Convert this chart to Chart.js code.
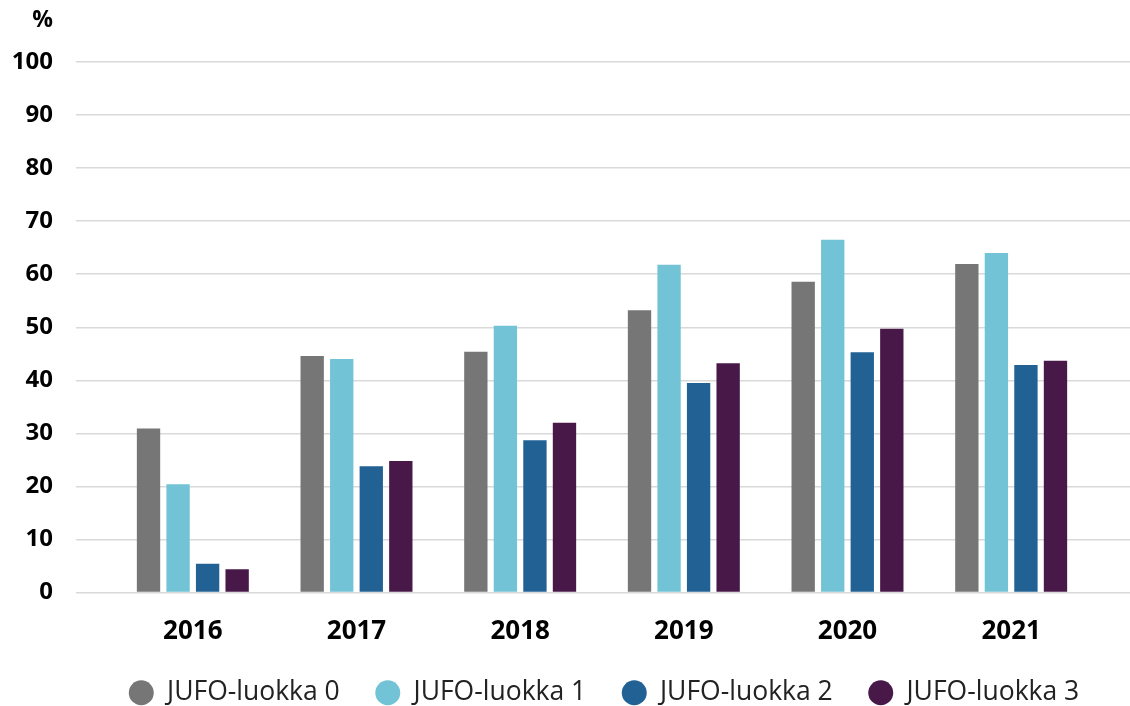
<!DOCTYPE html>
<html>
<head>
<meta charset="utf-8">
<script src="https://cdn.jsdelivr.net/npm/chart.js@4.4.0/dist/chart.umd.min.js"></script>
<style>
    html, body { margin: 0; padding: 0; background: #ffffff; }
    #wrap { width: 1130px; height: 706px; position: relative; }
</style>
</head>
<body>
<div id="wrap"><canvas id="chart"></canvas></div>
<script>
// Data
const years = ['2016', '2017', '2018', '2019', '2020', '2021'];
const luokka0 = [30.9, 44.6, 45.4, 53.2, 58.6, 61.9];
const luokka1 = [20.4, 44.0, 50.3, 61.8, 66.5, 64.0];
const luokka2 = [5.4, 23.8, 28.7, 39.5, 45.3, 42.9];
const luokka3 = [4.4, 24.8, 32.0, 43.2, 49.7, 43.7];
const seriesNames = ['JUFO-luokka 0', 'JUFO-luokka 1', 'JUFO-luokka 2', 'JUFO-luokka 3'];
const seriesColors = ['#767676', '#72c3d5', '#226194', '#481848'];
const yMin = 0;
const yMax = 100;
const yStep = 10;
const unitLabel = '%';

const FONT = '"Open Sans", "Noto Sans", sans-serif';
const GRID = '#d9d9d9';
const LEFT_TICK = 35;   // gridline overhang on the left
const RIGHT_TICK = 37;  // gridline overhang on the right
const LABEL_PAD = 23;

// "%" above the value axis
const unitPlugin = {
    id: 'unitLabel',
    afterDraw(chart) {
        const y = chart.scales.y;
        const ctx = chart.ctx;
        ctx.save();
        ctx.font = 'bold 23px ' + FONT;
        ctx.fillStyle = '#000000';
        ctx.textAlign = 'right';
        ctx.textBaseline = 'middle';
        ctx.fillText(unitLabel, y.right - LEFT_TICK - LABEL_PAD, y.top - 42);
        ctx.restore();
    }
};

// Centre the legend under the plot area instead of the whole canvas
const legendShift = {
    id: 'legendShift',
    afterLayout(chart) {
        const lg = chart.legend;
        if (!lg) return;
        const dx = (chart.chartArea.left + chart.chartArea.right) / 2 - (lg.left + lg.right) / 2 + 2;
        lg.left += dx;
        lg.right += dx;
    }
};

const allSeries = [luokka0, luokka1, luokka2, luokka3];

new Chart(document.getElementById('chart'), {
    type: 'bar',
    data: {
        labels: years,
        datasets: allSeries.map((values, i) => ({
            label: seriesNames[i],
            data: values,
            backgroundColor: seriesColors[i],
            borderWidth: 0,
            categoryPercentage: 0.722,
            barPercentage: 0.79,
            yAxisID: 'y'
        }))
    },
    options: {
        responsive: true,
        maintainAspectRatio: false,
        animation: false,
        layout: { padding: { top: 62, left: 0, right: 0, bottom: -10 } },
        plugins: {
            legend: {
                position: 'bottom',
                labels: {
                    font: { family: FONT, size: 26.5 },
                    color: '#222222',
                    usePointStyle: true,
                    pointStyle: 'circle',
                    boxHeight: 17.7,
                    pointStyleWidth: 25,
                    padding: 35.5
                }
            },
            tooltip: { enabled: false }
        },
        scales: {
            x: {
                grid: { display: false },
                border: { display: false },
                ticks: {
                    font: { family: FONT, size: 26, weight: 'bold' },
                    color: '#000000',
                    padding: 15
                },
                afterFit(scale) { scale.height = 51.5; }
            },
            y: {
                min: yMin,
                max: yMax,
                border: { display: false },
                grid: { color: GRID, lineWidth: 1.5, tickLength: LEFT_TICK },
                ticks: {
                    stepSize: yStep,
                    font: { family: FONT, size: 24, weight: 'bold' },
                    color: '#000000',
                    padding: LABEL_PAD
                },
                afterFit(scale) { scale.width = 111; }
            },
            y2: {
                position: 'right',
                min: yMin,
                max: yMax,
                border: { display: false },
                grid: { color: GRID, lineWidth: 1.5, tickLength: RIGHT_TICK, drawOnChartArea: false },
                ticks: { stepSize: yStep, display: false },
                afterFit(scale) { scale.width = RIGHT_TICK; }
            }
        }
    },
    plugins: [unitPlugin, legendShift]
});
</script>
</body>
</html>
